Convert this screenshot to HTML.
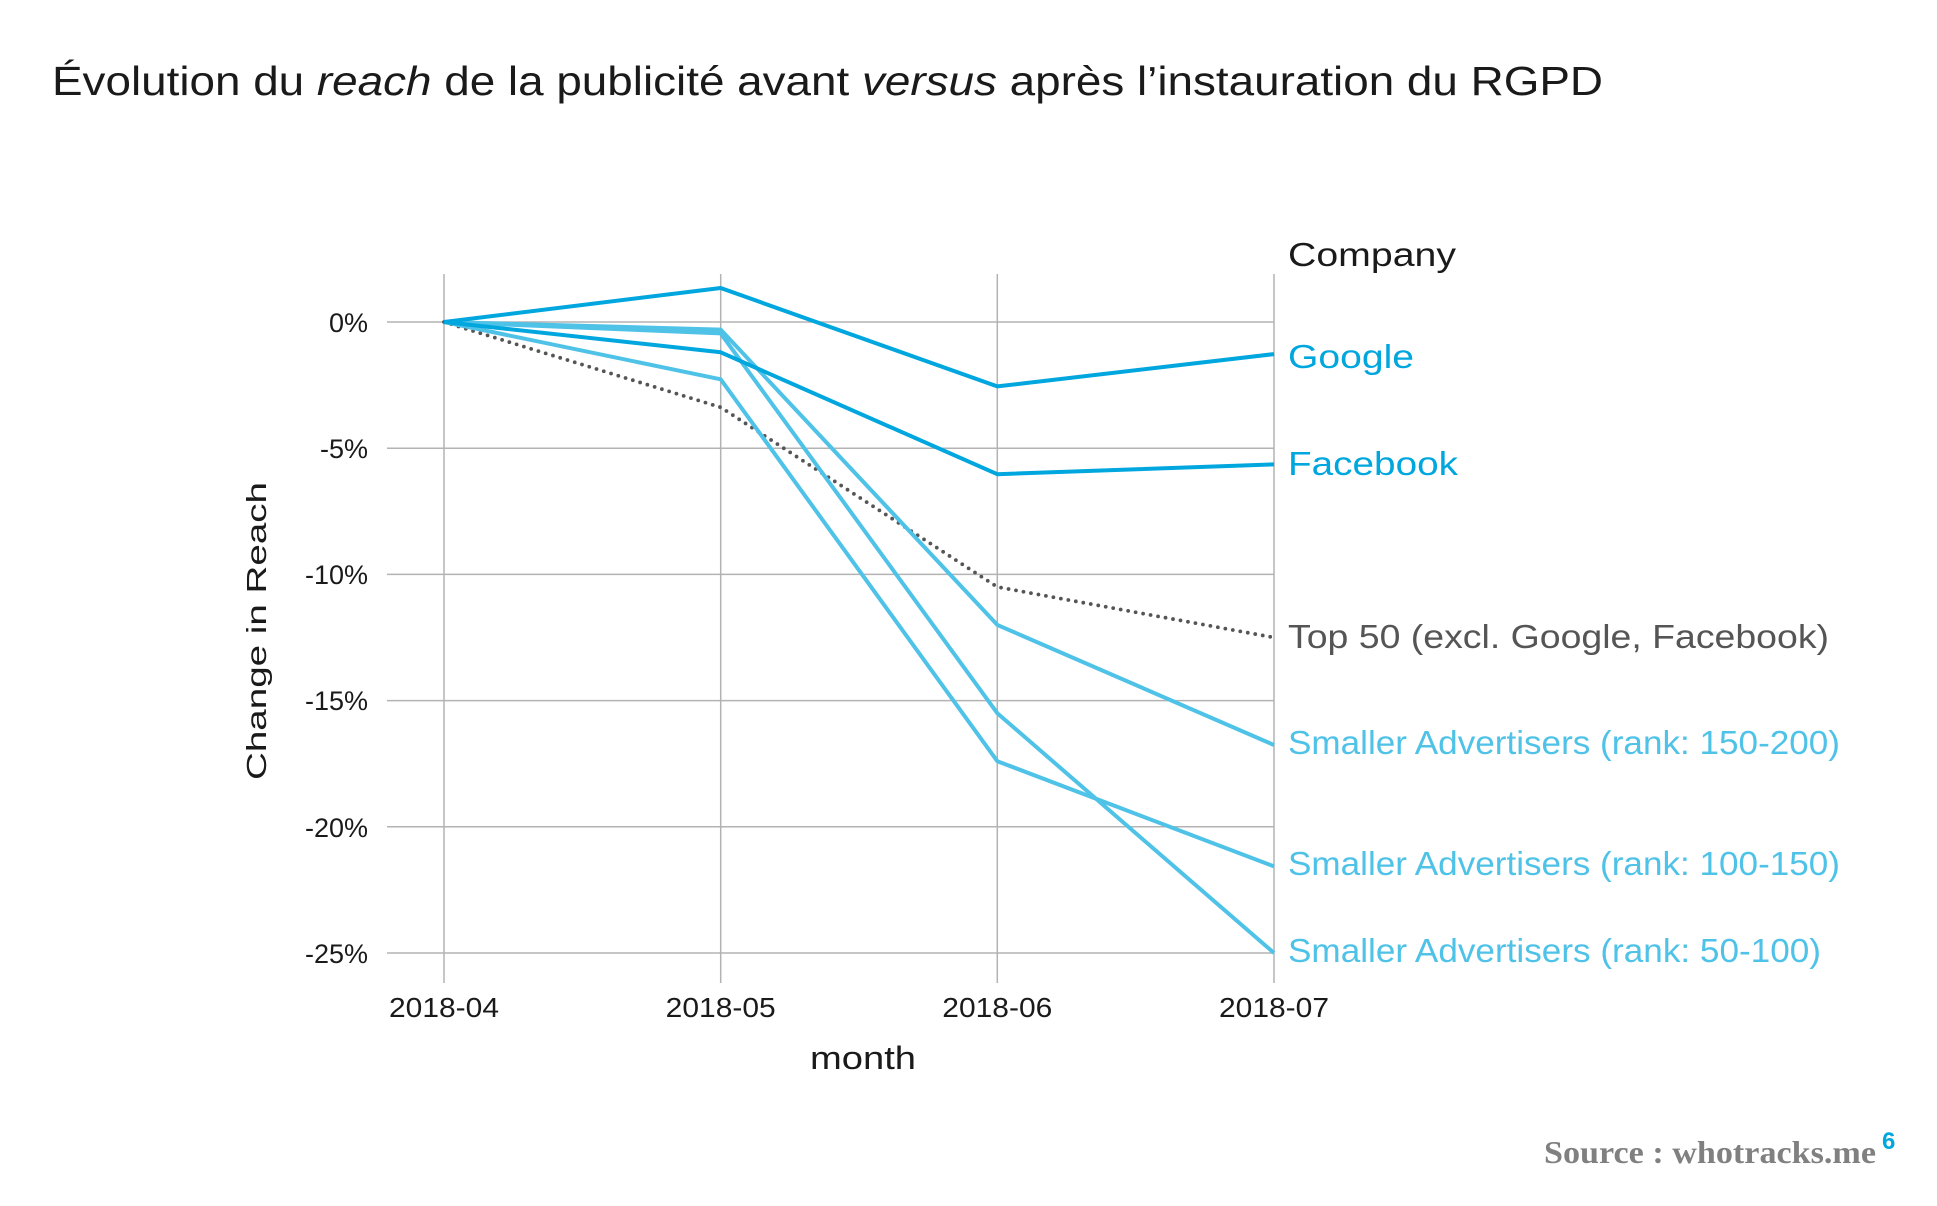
<!DOCTYPE html>
<html>
<head>
<meta charset="utf-8">
<style>
  html, body { margin: 0; padding: 0; background: #ffffff; }
  body { width: 1937px; height: 1206px; overflow: hidden; }
  svg { display: block; }
  text { font-family: "Liberation Sans", "DejaVu Sans", sans-serif; }
</style>
</head>
<body>
<svg width="1937" height="1206" viewBox="0 0 1937 1206" xmlns="http://www.w3.org/2000/svg">
  <rect x="0" y="0" width="1937" height="1206" fill="#ffffff"/>

  <!-- Title -->
  <text x="52" y="95" font-size="41" fill="#1a1a1a" textLength="1551" lengthAdjust="spacingAndGlyphs">Évolution du <tspan font-style="italic">reach</tspan> de la publicité avant <tspan font-style="italic">versus</tspan> après l’instauration du RGPD</text>

  <!-- Gridlines -->
  <g stroke="#b3b3b3" stroke-width="1.5" fill="none">
    <line x1="387" y1="322" x2="1274" y2="322"/>
    <line x1="387" y1="448.2" x2="1274" y2="448.2"/>
    <line x1="387" y1="574.4" x2="1274" y2="574.4"/>
    <line x1="387" y1="700.6" x2="1274" y2="700.6"/>
    <line x1="387" y1="826.8" x2="1274" y2="826.8"/>
    <line x1="387" y1="953" x2="1274" y2="953"/>
    <line x1="444" y1="274" x2="444" y2="983"/>
    <line x1="720.7" y1="274" x2="720.7" y2="983"/>
    <line x1="997.3" y1="274" x2="997.3" y2="983"/>
    <line x1="1274" y1="274" x2="1274" y2="983"/>
  </g>

  <!-- Y tick labels -->
  <g font-size="27" fill="#1a1a1a" text-anchor="end">
    <text x="368" y="332">0%</text>
    <text x="368" y="458">-5%</text>
    <text x="368" y="584">-10%</text>
    <text x="368" y="710">-15%</text>
    <text x="368" y="837">-20%</text>
    <text x="368" y="963">-25%</text>
  </g>

  <!-- X tick labels -->
  <g font-size="28" fill="#1a1a1a" text-anchor="middle">
    <text x="444" y="1017" textLength="110" lengthAdjust="spacingAndGlyphs">2018-04</text>
    <text x="720.7" y="1017" textLength="110" lengthAdjust="spacingAndGlyphs">2018-05</text>
    <text x="997.3" y="1017" textLength="110" lengthAdjust="spacingAndGlyphs">2018-06</text>
    <text x="1274" y="1017" textLength="110" lengthAdjust="spacingAndGlyphs">2018-07</text>
  </g>

  <!-- Axis titles -->
  <text x="863" y="1069" font-size="32" fill="#1a1a1a" text-anchor="middle" textLength="106" lengthAdjust="spacingAndGlyphs">month</text>
  <text transform="translate(266,631) rotate(-90)" x="0" y="0" font-size="28" fill="#1a1a1a" text-anchor="middle" textLength="298" lengthAdjust="spacingAndGlyphs">Change in Reach</text>

  <!-- Series -->
  <g fill="none" stroke-linejoin="round">
    <!-- Top 50 dotted -->
    <polyline points="444,322 720.7,407.3 997.3,587 1274,637.5" stroke="#555555" stroke-width="3.8" stroke-linecap="round" stroke-dasharray="0 7.6"/>
    <!-- Smaller 150-200 -->
    <polyline points="444,322 720.7,329.6 997.3,624.9 1274,745" stroke="#4fc2e7" stroke-width="4"/>
    <!-- Smaller 100-150 -->
    <polyline points="444,322 720.7,379.3 997.3,761.2 1274,866.4" stroke="#4fc2e7" stroke-width="4"/>
    <!-- Smaller 50-100 -->
    <polyline points="444,322 720.7,333.4 997.3,713.2 1274,953" stroke="#4fc2e7" stroke-width="4"/>
    <!-- Facebook -->
    <polyline points="444,322 720.7,352.3 997.3,474.2 1274,464.4" stroke="#00a6de" stroke-width="4"/>
    <!-- Google -->
    <polyline points="444,322 720.7,288 997.3,386.4 1274,354.1" stroke="#00a6de" stroke-width="4"/>
  </g>

  <!-- Legend / direct labels -->
  <text x="1288" y="266" font-size="33" fill="#1a1a1a" textLength="168" lengthAdjust="spacingAndGlyphs">Company</text>
  <text x="1288" y="368" font-size="33" fill="#00a6de" textLength="126" lengthAdjust="spacingAndGlyphs">Google</text>
  <text x="1288" y="475" font-size="33" fill="#00a6de" textLength="170" lengthAdjust="spacingAndGlyphs">Facebook</text>
  <text x="1288" y="648" font-size="33" fill="#555555" textLength="541" lengthAdjust="spacingAndGlyphs">Top 50 (excl. Google, Facebook)</text>
  <text x="1288" y="754" font-size="33" fill="#4fc2e7" textLength="552" lengthAdjust="spacingAndGlyphs">Smaller Advertisers (rank: 150-200)</text>
  <text x="1288" y="875" font-size="33" fill="#4fc2e7" textLength="552" lengthAdjust="spacingAndGlyphs">Smaller Advertisers (rank: 100-150)</text>
  <text x="1288" y="962" font-size="33" fill="#4fc2e7" textLength="533" lengthAdjust="spacingAndGlyphs">Smaller Advertisers (rank: 50-100)</text>

  <!-- Source -->
  <text x="1544" y="1163" font-weight="bold" font-size="32" fill="#808080" textLength="332" lengthAdjust="spacingAndGlyphs" style="font-family:'Liberation Serif', serif;">Source : whotracks.me</text>
  <text x="1882" y="1149" font-weight="bold" font-size="24" fill="#00a6de">6</text>
</svg>
</body>
</html>
